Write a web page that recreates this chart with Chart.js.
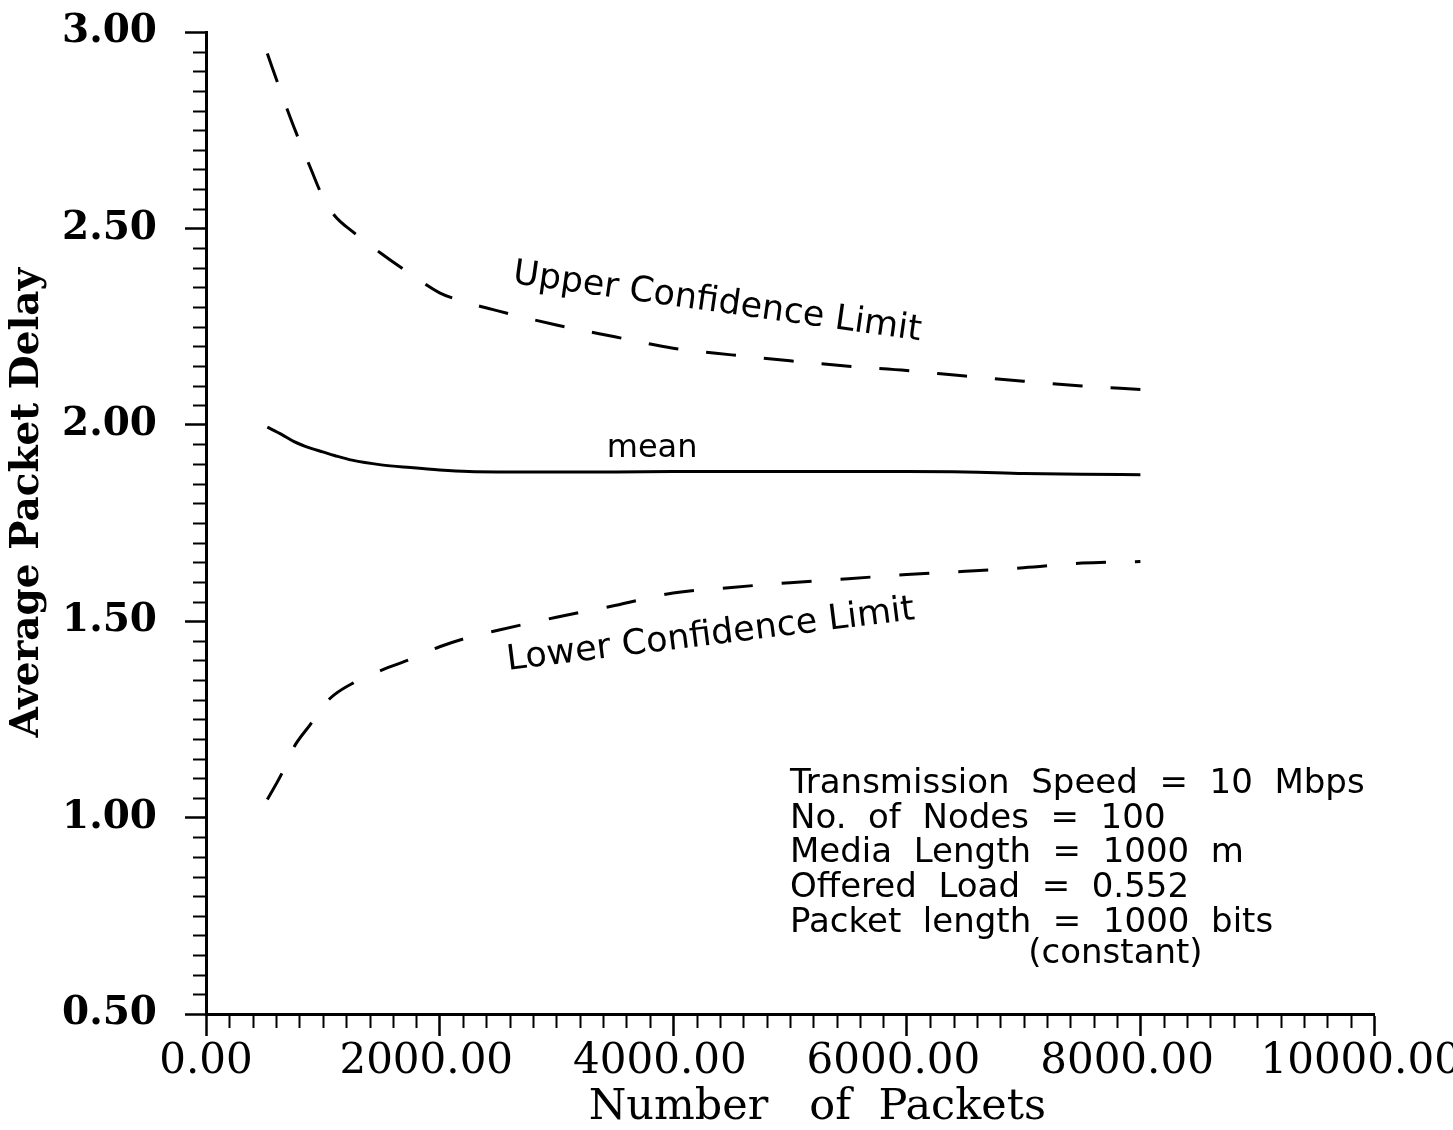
<!DOCTYPE html>
<html>
<head>
<meta charset="utf-8">
<script src="https://cdn.jsdelivr.net/npm/chart.js@4.4.1/dist/chart.umd.min.js"></script>
<style>
  html, body { margin: 0; padding: 0; background: #fff; overflow: hidden; }
  canvas { display: block; }
</style>
</head>
<body>
<canvas id="delayChart" width="1453" height="1130"></canvas>
<script>
// Simulated average packet delay vs. number of packets, with 95% confidence band
const packets    = [525, 650, 750, 900, 1000, 1100, 1250, 1500, 1750, 2000, 2250, 2500, 3000, 3500, 4000, 4500, 5000, 5500, 6000, 6500, 7000, 7500, 8000];
const meanDelay  = [1.994, 1.975, 1.958, 1.940, 1.931, 1.922, 1.910, 1.898, 1.891, 1.885, 1.881, 1.880, 1.880, 1.880, 1.881, 1.881, 1.881, 1.881, 1.881, 1.880, 1.876, 1.874, 1.873];
const upperLimit = [2.945, 2.840, 2.760, 2.650, 2.580, 2.533, 2.493, 2.436, 2.384, 2.336, 2.310, 2.290, 2.254, 2.224, 2.195, 2.178, 2.163, 2.149, 2.138, 2.124, 2.111, 2.099, 2.090];
const lowerLimit = [1.046, 1.113, 1.178, 1.240, 1.284, 1.313, 1.341, 1.375, 1.403, 1.435, 1.459, 1.477, 1.510, 1.540, 1.572, 1.586, 1.598, 1.608, 1.619, 1.627, 1.636, 1.648, 1.652];

const xTicks = [0, 2000, 4000, 6000, 8000, 10000];
const yTicks = [0.5, 1.0, 1.5, 2.0, 2.5, 3.0];
const xMinorStep = 200;
const yMinorStep = 0.05;

// Curve captions, anchored in data units: [text, packets, delay, angle in degrees, font size]
const curveLabels = [
  ['Upper Confidence Limit', 2620, 2.361, 8.0, 35],
  ['mean',                   3431, 1.919, 0, 32],
  ['Lower Confidence Limit', 2586, 1.376, -7.1, 35]
];

// Simulation parameters block
const conditions = [
  'Transmission  Speed  =  10  Mbps',
  'No.  of  Nodes  =  100',
  'Media  Length  =  1000  m',
  'Offered  Load  =  0.552',
  'Packet  length  =  1000  bits'
];
const conditionsNote = '(constant)';
const conditionsAnchor = { x: 5000, y: 1.063 };
const conditionsNoteX = 7040;

const toPoints = (xs, ys) => xs.map((x, i) => ({ x: x, y: ys[i] }));

const minorTicks = {
  id: 'minorTicks',
  afterDraw(chart) {
    const { ctx, chartArea, scales: { x, y } } = chart;
    ctx.save();
    ctx.strokeStyle = '#000';
    ctx.lineWidth = 2;
    ctx.beginPath();
    for (let v = x.min; v <= x.max + 1e-6; v += xMinorStep) {
      if (xTicks.includes(v)) continue;
      const px = Math.round(x.getPixelForValue(v)) + 0.5;
      ctx.moveTo(px, chartArea.bottom);
      ctx.lineTo(px, chartArea.bottom + 14);
    }
    const n = Math.round((y.max - y.min) / yMinorStep);
    for (let i = 0; i <= n; i++) {
      const v = +(y.min + i * yMinorStep).toFixed(3);
      if (yTicks.includes(v)) continue;
      const py = Math.round(y.getPixelForValue(v)) + 0.5;
      ctx.moveTo(chartArea.left - 13, py);
      ctx.lineTo(chartArea.left, py);
    }
    ctx.stroke();
    ctx.restore();
  }
};

const captions = {
  id: 'captions',
  afterDatasetsDraw(chart) {
    const { ctx, scales: { x, y } } = chart;
    ctx.save();
    ctx.fillStyle = '#000';
    ctx.textBaseline = 'alphabetic';
    ctx.textAlign = 'left';
    curveLabels.forEach(([text, px, py, deg, size]) => {
      ctx.save();
      ctx.translate(x.getPixelForValue(px), y.getPixelForValue(py));
      ctx.rotate(deg * Math.PI / 180);
      ctx.font = size + 'px "DejaVu Sans"';
      ctx.fillText(text, 0, 0);
      ctx.restore();
    });
    ctx.font = '34px "DejaVu Sans"';
    const left = x.getPixelForValue(conditionsAnchor.x);
    const top = y.getPixelForValue(conditionsAnchor.y);
    const lineGap = 34.8;
    conditions.forEach((line, i) => ctx.fillText(line, left, top + i * lineGap));
    ctx.fillText(conditionsNote, x.getPixelForValue(conditionsNoteX), top + conditions.length * lineGap - 4);
    ctx.restore();
  }
};

const axisGrid = (tickLength) => ({
  display: true,
  drawOnChartArea: false,
  drawTicks: true,
  tickLength: tickLength,
  tickWidth: 2.5,
  tickColor: '#000',
  color: '#000'
});

new Chart(document.getElementById('delayChart'), {
  type: 'line',
  data: {
    datasets: [
      {
        label: 'Upper Confidence Limit',
        data: toPoints(packets, upperLimit),
        borderColor: '#000',
        borderWidth: 3,
        borderDash: [30, 28],
        pointRadius: 0,
        cubicInterpolationMode: 'monotone',
        fill: false
      },
      {
        label: 'mean',
        data: toPoints(packets, meanDelay),
        borderColor: '#000',
        borderWidth: 3,
        pointRadius: 0,
        cubicInterpolationMode: 'monotone',
        fill: false
      },
      {
        label: 'Lower Confidence Limit',
        data: toPoints(packets, lowerLimit),
        borderColor: '#000',
        borderWidth: 3,
        borderDash: [30, 29],
        pointRadius: 0,
        cubicInterpolationMode: 'monotone',
        fill: false
      }
    ]
  },
  options: {
    responsive: false,
    animation: false,
    devicePixelRatio: 1,
    layout: { padding: { left: 0, right: 79, top: 32, bottom: 0 } },
    plugins: { legend: { display: false }, tooltip: { enabled: false } },
    scales: {
      x: {
        type: 'linear',
        min: 0,
        max: 10000,
        afterBuildTicks: s => { s.ticks = xTicks.map(v => ({ value: v })); },
        ticks: {
          // wide labels are printed flush with a trailing pad, as in the plotter output
          callback: v => Number(v).toFixed(2) + (v >= 1000 ? '  ' : ''),
          font: { family: 'DejaVu Serif', size: 42 },
          color: '#000',
          padding: 1,
          maxRotation: 0,
          autoSkip: false
        },
        grid: axisGrid(22),
        border: { display: true, color: '#000', width: 3 },
        title: {
          display: true,
          text: '    Number   of  Packets',
          color: '#000',
          font: { family: 'DejaVu Serif', size: 43, lineHeight: 1 },
          padding: { top: 0, bottom: 1 }
        },
        afterFit: s => { s.height = 116; s.paddingLeft = 0; s.paddingRight = 0; }
      },
      y: {
        type: 'linear',
        min: 0.5,
        max: 3.0,
        afterBuildTicks: s => { s.ticks = yTicks.map(v => ({ value: v })); },
        ticks: {
          callback: v => Number(v).toFixed(2),
          font: { family: 'DejaVu Serif', size: 39, weight: 'bold' },
          color: '#000',
          padding: 28
        },
        grid: axisGrid(21),
        border: { display: true, color: '#000', width: 3 },
        title: {
          display: true,
          text: '   Average Packet Delay',
          color: '#000',
          font: { family: 'DejaVu Serif', size: 39, weight: 'bold', lineHeight: 1.2 },
          padding: { top: 4, bottom: 0 }
        },
        afterFit: s => { s.width = 206; s.paddingTop = 0; s.paddingBottom = 0; }
      }
    }
  },
  plugins: [minorTicks, captions]
});
</script>
</body>
</html>
